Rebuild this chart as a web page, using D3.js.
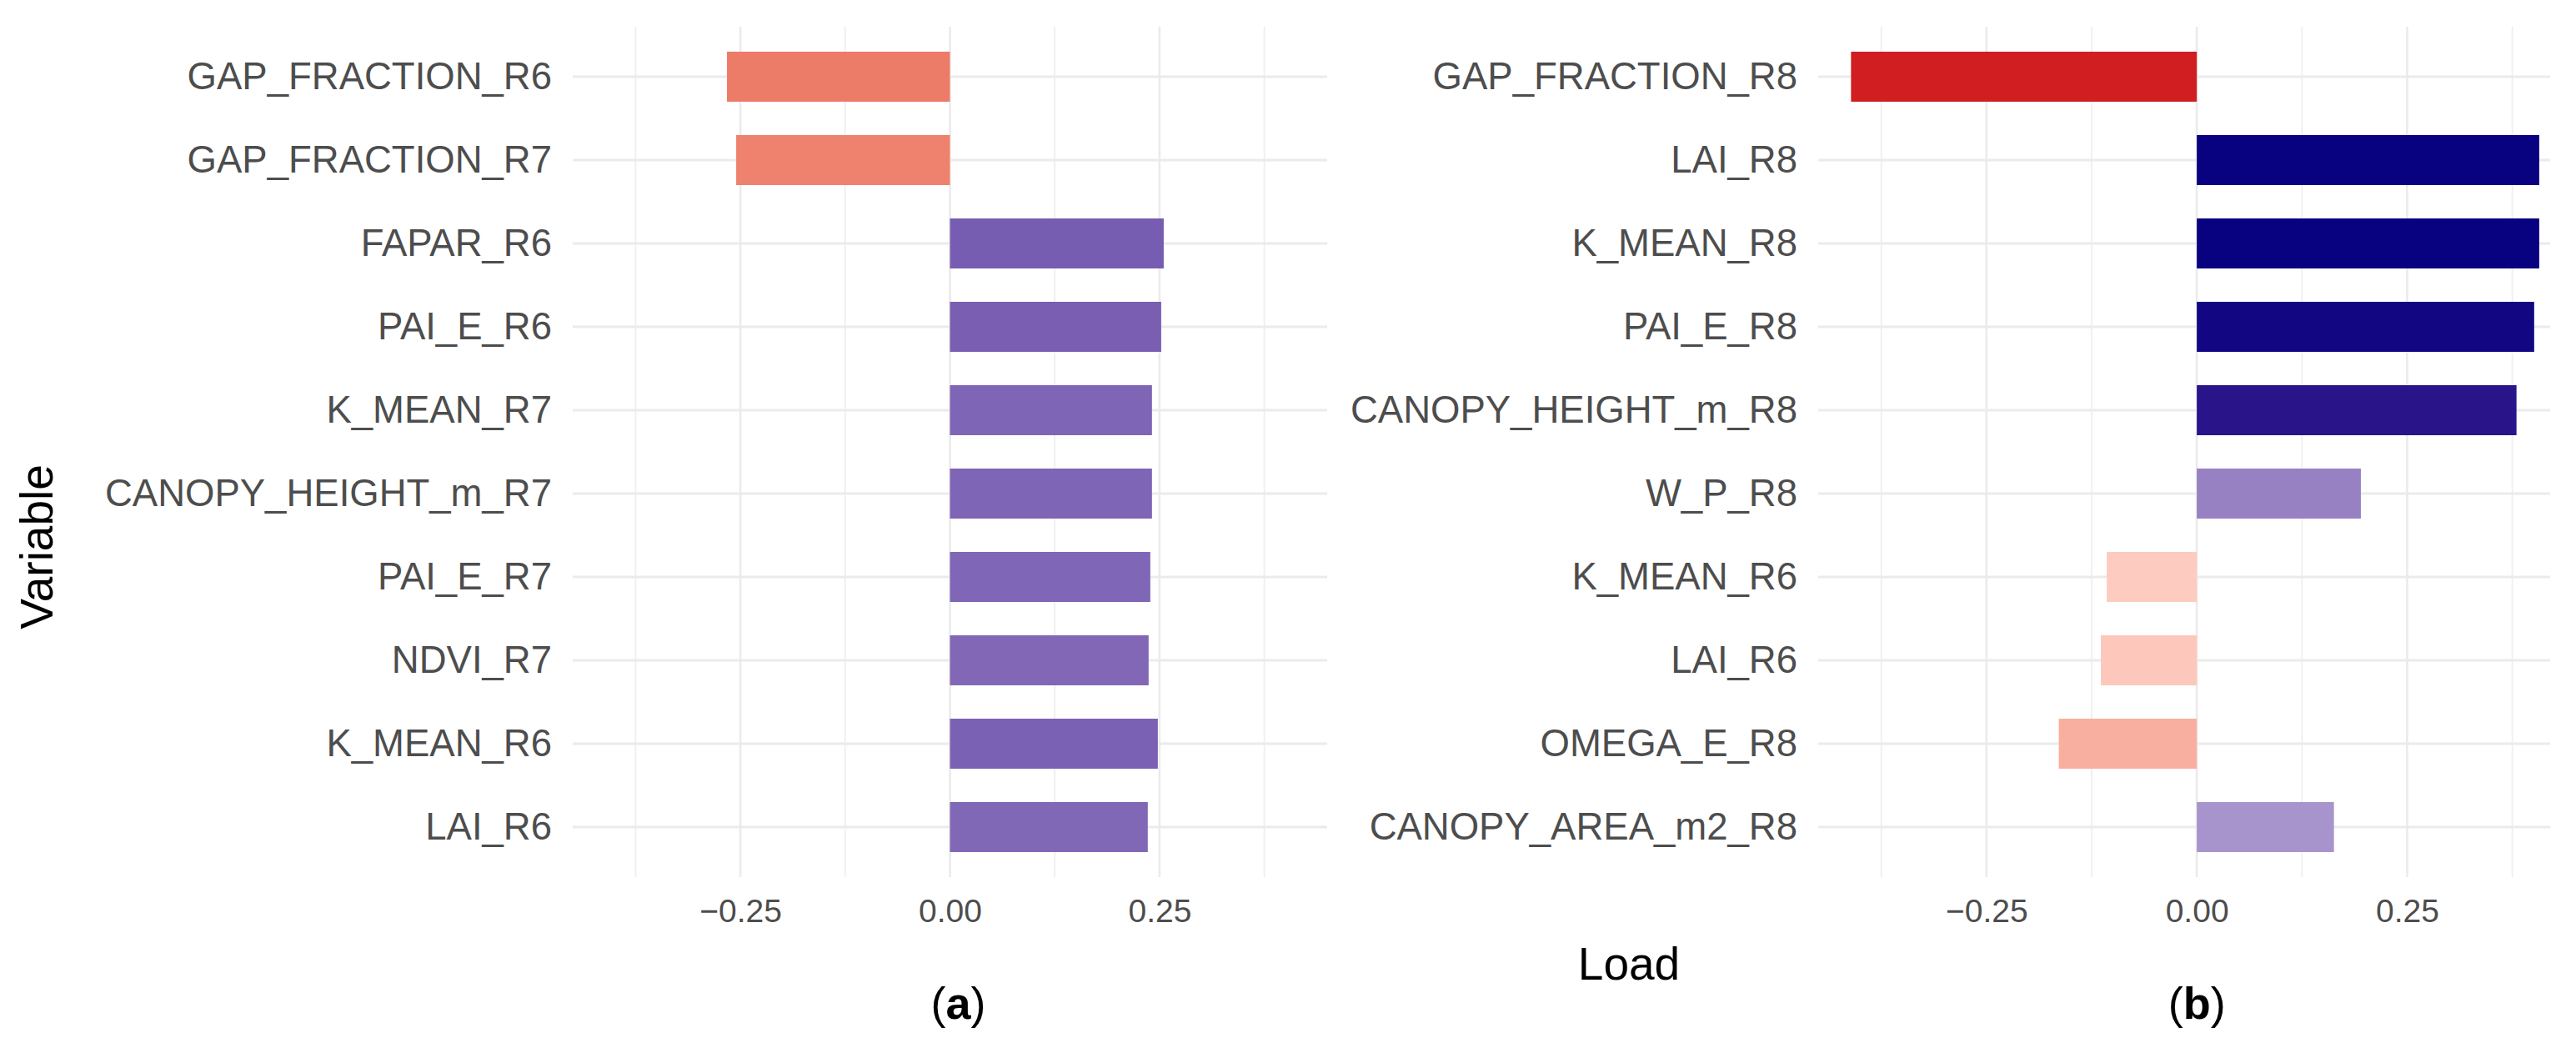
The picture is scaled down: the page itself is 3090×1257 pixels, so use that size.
<!DOCTYPE html>
<html>
<head>
<meta charset="utf-8">
<script src="https://cdn.jsdelivr.net/npm/d3@7"></script>
<style>
  body { margin: 0; background: #fff; }
  svg { display: block; font-family: "Liberation Sans", Arial, sans-serif; }
  .tick text { fill: #4d4d4d; }
</style>
</head>
<body>
<div id="chart"></div>
<script>
// panel (a)
const varsA = ["GAP_FRACTION_R6", "GAP_FRACTION_R7", "FAPAR_R6", "PAI_E_R6", "K_MEAN_R7",
               "CANOPY_HEIGHT_m_R7", "PAI_E_R7", "NDVI_R7", "K_MEAN_R6", "LAI_R6"];
const loadsA = [-0.266, -0.255, 0.255, 0.252, 0.241, 0.241, 0.239, 0.237, 0.248, 0.236];

// panel (b)
const varsB = ["GAP_FRACTION_R8", "LAI_R8", "K_MEAN_R8", "PAI_E_R8", "CANOPY_HEIGHT_m_R8",
               "W_P_R8", "K_MEAN_R6", "LAI_R6", "OMEGA_E_R8", "CANOPY_AREA_m2_R8"];
const loadsB = [-0.411, 0.407, 0.407, 0.401, 0.380, 0.195, -0.107, -0.114, -0.164, 0.163];

const majorTicks = [-0.25, 0, 0.25];
const minorTicks = [-0.375, -0.125, 0.125, 0.375];
const limitsA = [-0.45, 0.45];
const limitsB = [-0.45, 0.42];

const W = 3090, H = 1257;
const panelTop = 32, panelBottom = 1052;

const svg = d3.select("#chart").append("svg")
    .attr("width", W)
    .attr("height", H);

// shared diverging fill, mid = white at 0
const maxAbs = d3.max(loadsA.concat(loadsB), d => Math.abs(d));
const fill = d3.scaleLinear()
    .domain([-maxAbs, 0, maxAbs])
    .range(["#d11e20", "#ffffff", "#000080"])
    .interpolate(d3.interpolateLab);

function panel(vars, loads, limits, left, right, tag) {
    const data = vars.map((v, i) => ({name: v, load: loads[i]}));

    const x = d3.scaleLinear().domain(limits).range([left, right]);
    const y = d3.scaleBand().domain(vars).range([panelTop, panelBottom])
        .paddingInner(0.4).paddingOuter(0.3);

    const g = svg.append("g");

    // grid
    g.selectAll(".minor").data(minorTicks).enter().append("line")
        .attr("x1", d => x(d)).attr("x2", d => x(d))
        .attr("y1", panelTop).attr("y2", panelBottom)
        .attr("stroke", "#efefef").attr("stroke-width", 1.8);
    g.selectAll(".major").data(majorTicks).enter().append("line")
        .attr("x1", d => x(d)).attr("x2", d => x(d))
        .attr("y1", panelTop).attr("y2", panelBottom)
        .attr("stroke", "#ebebeb").attr("stroke-width", 2.6);
    g.selectAll(".hgrid").data(vars).enter().append("line")
        .attr("x1", left).attr("x2", right)
        .attr("y1", d => y(d) + y.bandwidth() / 2)
        .attr("y2", d => y(d) + y.bandwidth() / 2)
        .attr("stroke", "#ebebeb").attr("stroke-width", 2.8);

    // bars
    g.selectAll(".bar").data(data).enter().append("rect")
        .attr("x", d => x(Math.min(0, d.load)))
        .attr("y", d => y(d.name))
        .attr("width", d => Math.abs(x(d.load) - x(0)))
        .attr("height", y.bandwidth())
        .attr("fill", d => fill(d.load));

    // axes
    g.append("g")
        .attr("transform", "translate(0," + panelBottom + ")")
        .call(d3.axisBottom(x).tickValues(majorTicks).tickSize(0).tickPadding(26)
            .tickFormat(d3.format(".2f")))
        .call(a => a.select(".domain").remove())
        .selectAll("text").attr("font-size", 39);

    g.append("g")
        .attr("transform", "translate(" + left + ",0)")
        .call(d3.axisLeft(y).tickSize(0).tickPadding(25))
        .call(a => a.select(".domain").remove())
        .selectAll("text").attr("font-size", 45.5);

    // panel tag
    const t = svg.append("text")
        .attr("x", x(0) + (tag === "a" ? 10 : 0))
        .attr("y", 1222)
        .attr("text-anchor", "middle")
        .attr("font-size", 54)
        .attr("fill", "#000");
    t.append("tspan").text("(");
    t.append("tspan").attr("font-weight", "bold").text(tag);
    t.append("tspan").text(")");
}

panel(varsA, loadsA, limitsA, 687, 1592, "a");
panel(varsB, loadsB, limitsB, 2181, 3059, "b");

// titles
svg.append("text")
    .attr("transform", "translate(63,656) rotate(-90)")
    .attr("text-anchor", "middle")
    .attr("font-size", 55)
    .attr("fill", "#000")
    .text("Variable");

svg.append("text")
    .attr("x", 1954)
    .attr("y", 1175)
    .attr("text-anchor", "middle")
    .attr("font-size", 55)
    .attr("fill", "#000")
    .text("Load");
</script>
</body>
</html>
